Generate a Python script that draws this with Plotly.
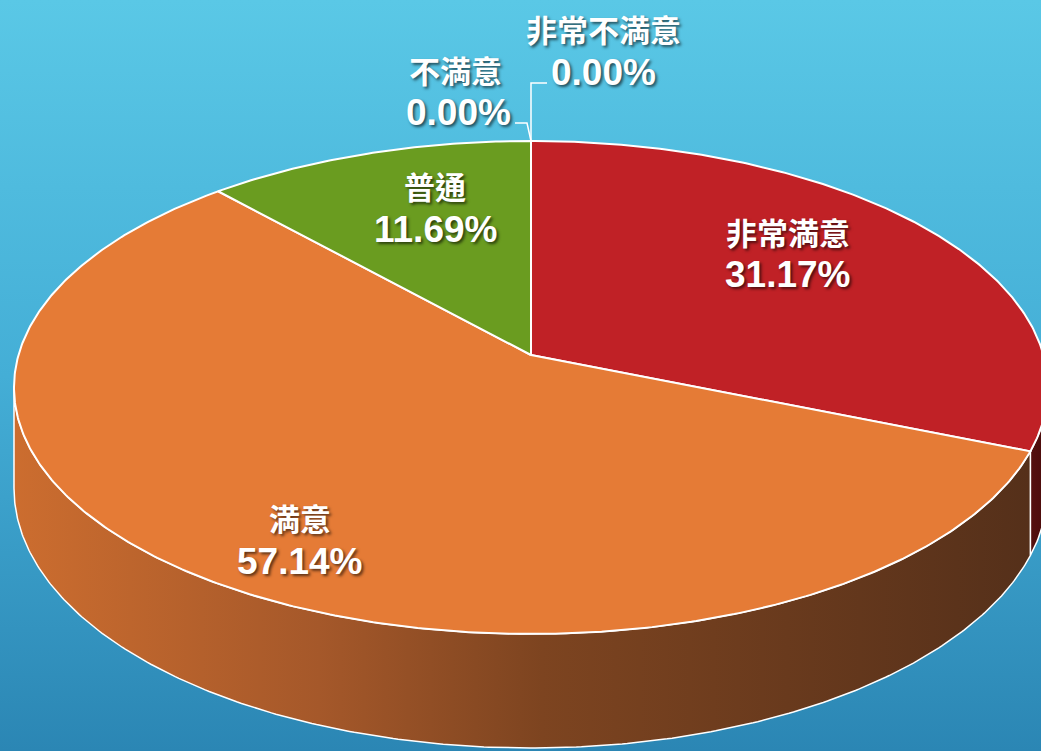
import math
import plotly.graph_objects as go

# ---------------- data ----------------
labels = ["非常満意", "満意", "普通", "不満意", "非常不満意"]
values = [31.17, 57.14, 11.69, 0.00, 0.00]
pct_text = ["31.17%", "57.14%", "11.69%", "0.00%", "0.00%"]

# ---------------- style ----------------
W, H = 1041, 751
top_colors = ["#c02126", "#e57b36", "#6a9c20", "#8a8a8a", "#5a5a5a"]
side_scales = [
    [[0, "#55100f"], [1, "#4a0b0b"]],
    [[0, "#cc6d2f"], [0.3, "#a5582a"], [0.52, "#7d4420"], [1, "#55301a"]],
    [[0, "#3f5e12"], [1, "#3f5e12"]],
    [[0, "#555"], [1, "#555"]],
    [[0, "#444"], [1, "#444"]],
]
# projection of the tilted disc (perspective)
CX, CY, A, B, K, T = 531.0, 355.0, 512.5, 242.2, 0.1318, 99.0
# label placement (pixel positions of name / percent lines)
name_pos = [(788, 231), (300, 517), (435, 185), (455, 69), (603, 28)]
pct_pos = [(788, 274), (300, 561), (435, 229), (458, 112), (603, 72)]
leader_pts = {3: [(515, 123), (527, 123)], 4: [(547, 83), (531, 83)]}


def proj(theta_deg, r=1.0, drop=0.0):
    th = math.radians(theta_deg)
    u, v = r * math.sin(th), r * math.cos(th)
    d = 1 + K * v
    return CX + A * u / d, CY - B * v / d + drop / d


def arc(t1, t2, drop=0.0, n=None):
    if n is None:
        n = max(2, int(abs(t2 - t1) * 2) + 2)
    pts = [proj(t1 + (t2 - t1) * i / (n - 1), 1.0, drop) for i in range(n)]
    return pts


fig = go.Figure()

# background gradient
fig.add_trace(go.Scatter(
    x=[0, W, W, 0, 0], y=[0, 0, H, H, 0], mode="lines", fill="toself",
    line=dict(width=0), hoverinfo="skip",
    fillgradient=dict(type="vertical", start=0, stop=H,
                      colorscale=[[0, "#5ac8e6"], [0.5, "#44aed6"], [1, "#2b86b4"]]),
))

total = sum(values)
starts, ends = [], []
acc = 0.0
for v in values:
    starts.append(acc / total * 360)
    acc += v
    ends.append(acc / total * 360)

# visible side range (silhouette points)
vis_r = math.degrees(math.acos(-K))
vis_l = 360 - vis_r

# sides
for i, (s, e) in enumerate(zip(starts, ends)):
    a1, a2 = max(s, vis_r), min(e, vis_l)
    if a2 <= a1:
        continue
    topp = arc(a1, a2)
    bot = arc(a1, a2, drop=T)[::-1]
    pts = topp + bot + [topp[0]]
    xs = [p[0] for p in pts]
    fig.add_trace(go.Scatter(
        x=xs, y=[p[1] for p in pts], mode="lines", fill="toself",
        line=dict(color="white", width=1.5), hoverinfo="skip",
        fillgradient=dict(type="horizontal", start=min(xs), stop=max(xs),
                          colorscale=side_scales[i]),
    ))

# top faces
for i, (s, e) in enumerate(zip(starts, ends)):
    if e - s <= 0:
        continue
    pts = [proj(0, 0)] + arc(s, e) + [proj(0, 0)]
    fig.add_trace(go.Scatter(
        x=[p[0] for p in pts], y=[p[1] for p in pts], mode="lines",
        fill="toself", fillcolor=top_colors[i],
        line=dict(color="white", width=2), hoverinfo="skip",
    ))

# leader lines for zero slices
for i, lp in leader_pts.items():
    anchor = proj(ends[i])
    pts = lp + [anchor]
    fig.add_trace(go.Scatter(
        x=[p[0] for p in pts], y=[p[1] for p in pts], mode="lines",
        line=dict(color="white", width=1.5), hoverinfo="skip",
    ))

shadow = "2px 2px 3px rgba(0,0,0,0.6)"
ann = []
for i in range(len(labels)):
    ann.append(dict(x=name_pos[i][0], y=name_pos[i][1], xref="x", yref="y",
                    text=labels[i], showarrow=False,
                    font=dict(family="Noto Sans CJK TC", size=31, color="white",
                              weight="bold", shadow=shadow)))
    ann.append(dict(x=pct_pos[i][0], y=pct_pos[i][1], xref="x", yref="y",
                    text=pct_text[i], showarrow=False,
                    font=dict(family="Liberation Sans, Arial", size=37, color="white",
                              weight="bold", shadow=shadow)))

fig.update_layout(
    width=W, height=H, margin=dict(l=0, r=0, t=0, b=0),
    paper_bgcolor="#4bb8dd", plot_bgcolor="#4bb8dd", showlegend=False,
    xaxis=dict(range=[0, W], visible=False, fixedrange=True),
    yaxis=dict(range=[H, 0], visible=False, fixedrange=True),
    annotations=ann,
)

fig.write_html("out.html", config={"displayModeBar": False},
               post_script="document.body.style.margin='0';document.body.style.overflow='hidden';")
